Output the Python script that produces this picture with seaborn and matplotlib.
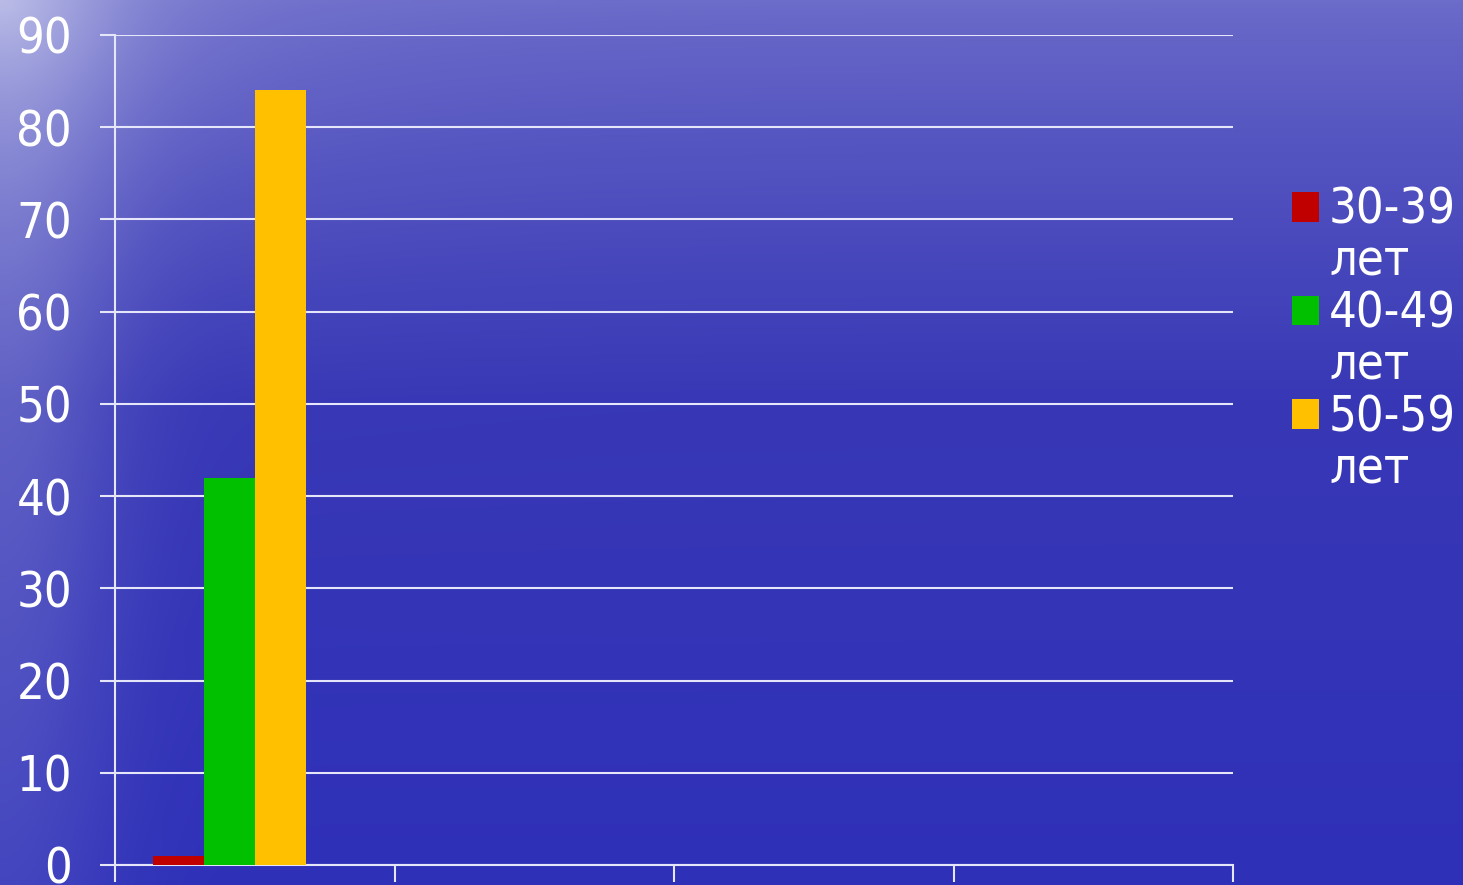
import numpy as np
import pandas as pd
import matplotlib
matplotlib.use("Agg")
import matplotlib.pyplot as plt
from matplotlib.patches import Patch
from matplotlib.font_manager import FontProperties, findfont
import seaborn as sns

# ---- data ----
categories = ["1", "2", "3", "4"]          # four category slots, only the first has data
groups = ["30-39 лет", "40-49 лет", "50-59 лет"]
values = [1, 42, 84]
colors = ["#c00000", "#00c000", "#ffc000"]
yticks = [0, 10, 20, 30, 40, 50, 60, 70, 80, 90]

df = pd.DataFrame({"cat": [categories[0]] * 3, "group": groups, "value": values})

sns.set_theme(style="white")
plt.rcParams["font.family"] = ["DejaVu Sans"]

W, H, DPI = 1463, 885, 100
fig = plt.figure(figsize=(W / DPI, H / DPI), dpi=DPI)

# condensed face if available (closer to the narrow original font)
cond = FontProperties(family="DejaVu Sans", stretch="condensed")
has_cond = "Condensed" in findfont(cond)
fsize = 35 if has_cond else 32
fp = FontProperties(family="DejaVu Sans", stretch="condensed" if has_cond else "normal",
                    size=fsize)

# ---- background (blue water-like gradient) ----
bg = fig.add_axes([0, 0, 1, 1], zorder=-10)
yy, xx = np.mgrid[0:1:300j, 0:1:500j]
top = np.array([108, 108, 202]) / 255
mid = np.array([56, 56, 182]) / 255
bot = np.array([46, 48, 184]) / 255
light = np.array([190, 192, 232]) / 255
t1 = np.clip(yy / 0.45, 0, 1) ** 0.8
img = top[None, None, :] * (1 - t1[..., None]) + mid[None, None, :] * t1[..., None]
t2 = np.clip((yy - 0.45) / 0.55, 0, 1)
img = img * (1 - t2[..., None]) + bot[None, None, :] * t2[..., None]
side = np.exp(-(xx / 0.08) ** 2) * (0.40 - 0.25 * yy)
corner = np.exp(-np.sqrt((xx / 0.25) ** 2 + (yy / 0.30) ** 2) * 2.5) * 0.55
wgt = np.clip(side + corner, 0, 1)[..., None]
img = img * (1 - wgt) + light[None, None, :] * wgt
bg.imshow(img, aspect="auto", extent=[0, 1, 0, 1], origin="upper")
bg.axis("off")

# ---- main axes ----
ax = fig.add_axes([115 / W, 1 - 865 / H, (1233 - 115) / W, (865 - 35) / H])
ax.set_facecolor("none")

palette = dict(zip(groups + [" "], colors + ["#000000"]))
sns.barplot(data=df, x="cat", y="value", hue="group", order=categories,
            hue_order=groups + [" "], palette=palette, width=0.73,
            saturation=1, legend=False, ax=ax, zorder=3, linewidth=0)

ax.set_xlim(-0.5, 3.5)
ax.set_ylim(0, 90)
ax.set_yticks(yticks)
ax.set_yticklabels([str(v) for v in yticks], fontproperties=fp, color="white")
ax.set_xticks([-0.5, 0.5, 1.5, 2.5, 3.5])
ax.set_xticklabels([])
ax.set_xlabel("")
ax.set_ylabel("")

ax.grid(axis="y", color="#e6e6fa", linewidth=1.5, zorder=1)
ax.grid(axis="x", visible=False)
ax.set_axisbelow(True)

for s in ["top", "right"]:
    ax.spines[s].set_visible(False)
for s in ["left", "bottom"]:
    ax.spines[s].set_color("#e6e6fa")
    ax.spines[s].set_linewidth(1.5)

ax.tick_params(axis="y", colors="#e6e6fa", length=11, width=1.5, direction="out",
               pad=20, labelcolor="white", left=True)
ax.tick_params(axis="x", colors="#e6e6fa", length=12, width=1.5, direction="out",
               bottom=True)

# ---- legend (labels wrapped onto two lines as in the original) ----
handles, labels = [], []
for g, c in zip(groups, colors):
    first, second = g.split(" ")
    handles.append(Patch(facecolor=c, edgecolor="none"))
    labels.append(first)
    handles.append(Patch(facecolor="none", edgecolor="none"))
    labels.append(second)

em = fsize * DPI / 72
leg = fig.legend(handles, labels, loc="upper left",
                 bbox_to_anchor=(1292 / W, 1 - 186 / H),
                 frameon=False, prop=fp, labelcolor="white",
                 handlelength=27 / em, handleheight=27 / em, handletextpad=10 / em,
                 labelspacing=max(51 - 0.97 * em, 0) / em, borderpad=0, borderaxespad=0)

fig.savefig("out.png", dpi=DPI)
